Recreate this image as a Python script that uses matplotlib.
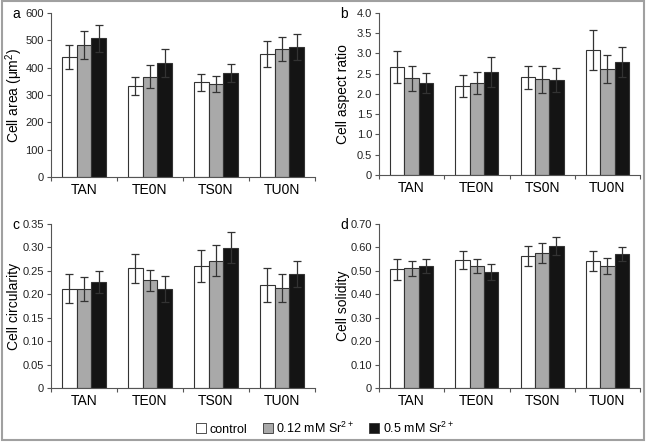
import matplotlib
matplotlib.use("Agg")
import matplotlib.pyplot as plt
import numpy as np
from matplotlib.patches import Patch, Rectangle

plt.rcParams['font.family'] = ['Liberation Sans', 'DejaVu Sans']
plt.rcParams['mathtext.fontset'] = 'custom'
plt.rcParams['mathtext.rm'] = 'Liberation Sans'
plt.rcParams['mathtext.it'] = 'Liberation Sans:italic'

groups = ['TAN', 'TE0N', 'TS0N', 'TU0N']
series = ['control', '0.12 mM Sr$^{2+}$', '0.5 mM Sr$^{2+}$']

# cell area (um^2)
area_ctrl = [439, 333, 347, 450]
area_ctrl_err = [45, 34, 31, 47]
area_012 = [483, 366, 341, 467]
area_012_err = [52, 42, 30, 44]
area_05 = [507, 417, 381, 476]
area_05_err = [49, 51, 32, 48]

# cell aspect ratio
ar_ctrl = [2.66, 2.19, 2.41, 3.09]
ar_ctrl_err = [0.39, 0.27, 0.28, 0.50]
ar_012 = [2.39, 2.27, 2.36, 2.62]
ar_012_err = [0.31, 0.27, 0.33, 0.35]
ar_05 = [2.27, 2.54, 2.34, 2.79]
ar_05_err = [0.25, 0.37, 0.30, 0.36]

# cell circularity
circ_ctrl = [0.212, 0.256, 0.261, 0.220]
circ_ctrl_err = [0.031, 0.031, 0.034, 0.036]
circ_012 = [0.211, 0.230, 0.272, 0.213]
circ_012_err = [0.025, 0.022, 0.033, 0.030]
circ_05 = [0.226, 0.211, 0.299, 0.243]
circ_05_err = [0.023, 0.028, 0.033, 0.027]

# cell solidity
sol_ctrl = [0.506, 0.547, 0.563, 0.543]
sol_ctrl_err = [0.045, 0.038, 0.044, 0.042]
sol_012 = [0.511, 0.520, 0.576, 0.519]
sol_012_err = [0.033, 0.030, 0.043, 0.034]
sol_05 = [0.520, 0.494, 0.606, 0.571]
sol_05_err = [0.030, 0.035, 0.040, 0.031]

colors = ['white', '#a9a9a9', '#141414']

panels = [
    ('a', 'Cell area (μm$^2$)', [area_ctrl, area_012, area_05],
     [area_ctrl_err, area_012_err, area_05_err], np.arange(0, 601, 100),
     ['%d' % v for v in np.arange(0, 601, 100)], [51, 315, 13, 177]),
    ('b', 'Cell aspect ratio', [ar_ctrl, ar_012, ar_05],
     [ar_ctrl_err, ar_012_err, ar_05_err], np.arange(0, 4.01, 0.5),
     ['0'] + ['%.1f' % v for v in np.arange(0.5, 4.01, 0.5)], [379, 640, 13, 175]),
    ('c', 'Cell circularity', [circ_ctrl, circ_012, circ_05],
     [circ_ctrl_err, circ_012_err, circ_05_err], np.arange(0, 0.351, 0.05),
     ['0'] + ['%.2f' % v for v in np.arange(0.05, 0.351, 0.05)], [51, 315, 224, 388]),
    ('d', 'Cell solidity', [sol_ctrl, sol_012, sol_05],
     [sol_ctrl_err, sol_012_err, sol_05_err], np.arange(0, 0.701, 0.1),
     ['0'] + ['%.2f' % v for v in np.arange(0.1, 0.701, 0.1)], [379, 640, 224, 388]),
]

W, H = 648, 442
fig = plt.figure(figsize=(W / 100, H / 100), dpi=100)

x = np.arange(len(groups))
bw = 0.22
for letter, ylabel, vals, errs, yt, ytl, (l, r, t, b) in panels:
    ax = fig.add_axes([l / W, 1 - b / H, (r - l) / W, (b - t) / H])
    for i in range(3):
        ax.bar(x + (i - 1) * bw, vals[i], bw, color=colors[i], edgecolor='#333333',
               linewidth=0.8, zorder=2)
        ax.errorbar(x + (i - 1) * bw, vals[i], yerr=errs[i], fmt='none',
                    ecolor='#333333', elinewidth=0.9, capsize=3, capthick=0.9, zorder=3)
    ax.set_xlim(-0.5, len(groups) - 0.5)
    ax.set_ylim(yt[0], yt[-1])
    ax.set_yticks(yt)
    ax.set_yticklabels(ytl, fontsize=8, color='#222222')
    ax.set_xticks(x)
    ax.set_xticklabels(groups, fontsize=10)
    ax.tick_params(axis='x', length=0, pad=4)
    ax.set_xticks(np.arange(-0.5, len(groups)), minor=True)
    ax.tick_params(axis='x', which='minor', length=3, width=0.8, color='#555555')
    ax.tick_params(axis='y', length=3, width=0.8, color='#555555', pad=2)
    for s in ['top', 'right']:
        ax.spines[s].set_visible(False)
    for s in ['left', 'bottom']:
        ax.spines[s].set_color('#555555')
        ax.spines[s].set_linewidth(0.8)
    ax.set_ylabel(ylabel, fontsize=10, va='center')
    label_x = 14 if l < 100 else 343
    ax.yaxis.set_label_coords((label_x - l) / (r - l), 0.5)
    fig.text((l - 39) / W, 1 - (t + 1) / H, letter, fontsize=10, va='center', ha='left')

handles = [Patch(facecolor=c, edgecolor='#333333', linewidth=0.6) for c in colors]
fig.legend(handles, series, loc='center', bbox_to_anchor=(325 / W, 1 - 428 / H),
           ncol=3, frameon=False, fontsize=9, handlelength=0.8, handleheight=0.8,
           handletextpad=0.3, columnspacing=1.2)

fig.patches.append(Rectangle((1.5 / W, 2 / H), (644 - 1.5) / W, (H - 3) / H,
                             transform=fig.transFigure, fill=False,
                             edgecolor='#a0a0a0', linewidth=1.5))

fig.savefig('out.png', dpi=100)
